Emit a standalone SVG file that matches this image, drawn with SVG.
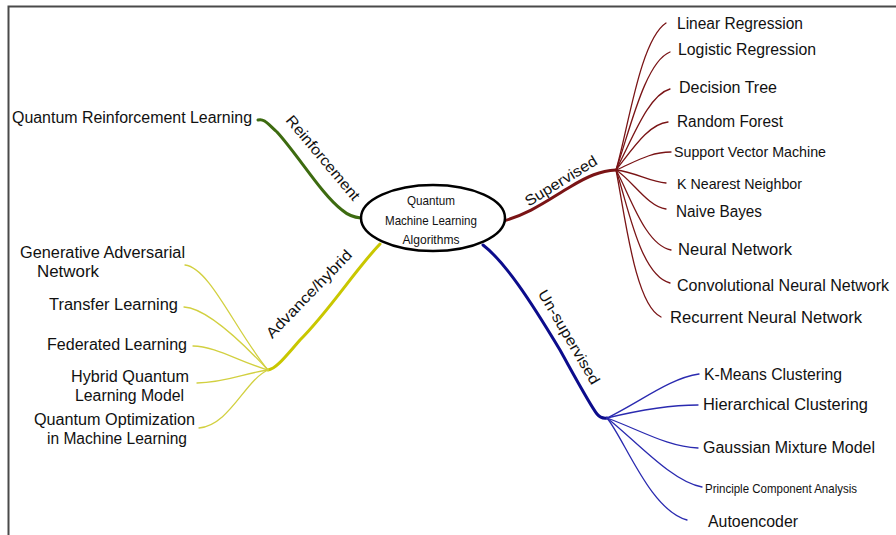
<svg xmlns="http://www.w3.org/2000/svg" width="896" height="535" viewBox="0 0 896 535">
<style>
text{font-family:"Liberation Sans",Arial,sans-serif;fill:#111;}
.lbl{font-size:16px;}
.sm{font-size:15px;}
.xs{font-size:13px;}
.br{font-size:15px;text-anchor:middle;}
.ctr{font-size:13.5px;text-anchor:middle;}
.main{fill:none;stroke-width:3;stroke-linecap:round;}
.sub{fill:none;stroke-width:1.3;stroke-linecap:round;}
.g{stroke:#3d6b10;}
.r{stroke:#7a1416;}
.b{stroke:#0c0c8c;}
.bs{stroke:#2a2ab0;}
.y{stroke:#c9c700;}
.ys{stroke:#d2d040;}
</style>
<rect width="896" height="535" fill="#fff"/>
<path d="M8.5 535 V6.5 H896" fill="none" stroke="#4a4a4a" stroke-width="2"/>

<g id="connectors">
  <!-- main branches -->
  <path class="main g" d="M258 120 C264 118 268 124 277 132 C298 155 322 195 342 210 Q350 217 361 218"/>
  <path class="main r" d="M500 222 C530 214 548 200 570 187 C588 176 600 171 616 170"/>
  <path class="main b" d="M483 245 C505 262 530 300 560 350 C575 377 590 405 597 414 Q601 419 607 418"/>
  <path class="main y" d="M380 244 C355 270 330 310 300 340 C285 357 276 369 268 370"/>
  <!-- supervised sub branches -->
  <path class="sub r" d="M616 170 C628 130 640 40 666 23"/>
  <path class="sub r" d="M616 170 C630 130 645 62 670 52"/>
  <path class="sub r" d="M616 170 C632 140 648 95 670 89"/>
  <path class="sub r" d="M616 170 C632 150 648 124 668 122"/>
  <path class="sub r" d="M616 170 C635 162 650 152 671 152"/>
  <path class="sub r" d="M616 170 C635 172 650 182 666 183"/>
  <path class="sub r" d="M616 170 C632 180 648 207 666 209"/>
  <path class="sub r" d="M616 170 C630 195 645 245 671 250"/>
  <path class="sub r" d="M616 170 C628 205 640 275 670 283"/>
  <path class="sub r" d="M616 170 C625 215 635 305 661 317"/>
  <!-- unsupervised sub branches -->
  <path class="sub bs" d="M607 418 C640 402 670 378 699 374"/>
  <path class="sub bs" d="M607 418 C640 410 670 405 698 405"/>
  <path class="sub bs" d="M607 418 C640 430 668 447 698 448"/>
  <path class="sub bs" d="M607 418 C635 440 672 482 702 487"/>
  <path class="sub bs" d="M607 418 C625 440 650 510 687 520"/>
  <!-- advance/hybrid sub branches -->
  <path class="sub ys" d="M268 370 C235 330 210 268 185 265"/>
  <path class="sub ys" d="M268 370 C240 340 205 308 184 307"/>
  <path class="sub ys" d="M268 370 C240 362 215 346 193 346"/>
  <path class="sub ys" d="M268 370 C245 373 225 383 197 383"/>
  <path class="sub ys" d="M268 370 C245 380 230 425 199 428"/>
</g>

<g id="center">
  <ellipse cx="433" cy="218" rx="72" ry="33" fill="#fff" stroke="#000" stroke-width="2.5"/>
  <text class="ctr" x="431" y="205" textLength="48" lengthAdjust="spacingAndGlyphs">Quantum</text>
  <text class="ctr" x="431" y="225" textLength="92" lengthAdjust="spacingAndGlyphs">Machine Learning</text>
  <text class="ctr" x="431" y="244" textLength="57" lengthAdjust="spacingAndGlyphs">Algorithms</text>
</g>

<g id="branch-labels">
  <text class="br" transform="translate(323 158) rotate(50)" y="5" textLength="106" lengthAdjust="spacingAndGlyphs">Reinforcement</text>
  <text class="br" transform="translate(561 181) rotate(-31.5)" y="5" textLength="82" lengthAdjust="spacingAndGlyphs">Supervised</text>
  <text class="br" transform="translate(569 337) rotate(59.6)" y="5" textLength="107" lengthAdjust="spacingAndGlyphs">Un-supervised</text>
  <text class="br" transform="translate(309 294) rotate(-46)" y="5" textLength="116" lengthAdjust="spacingAndGlyphs">Advance/hybrid</text>
</g>

<g id="node-qrl"><text class="lbl" x="12" y="123" textLength="240" lengthAdjust="spacingAndGlyphs">Quantum Reinforcement Learning</text></g>

<g id="node-linear"><text class="lbl" x="677" y="29" textLength="126" lengthAdjust="spacingAndGlyphs">Linear Regression</text></g>
<g id="node-logistic"><text class="lbl" x="678" y="55" textLength="138" lengthAdjust="spacingAndGlyphs">Logistic Regression</text></g>
<g id="node-dt"><text class="lbl" x="679" y="93" textLength="98" lengthAdjust="spacingAndGlyphs">Decision Tree</text></g>
<g id="node-rf"><text class="lbl" x="677" y="127" textLength="106" lengthAdjust="spacingAndGlyphs">Random Forest</text></g>
<g id="node-svm"><text class="sm" x="674" y="157" textLength="152" lengthAdjust="spacingAndGlyphs">Support Vector Machine</text></g>
<g id="node-knn"><text class="sm" x="677" y="189" textLength="125" lengthAdjust="spacingAndGlyphs">K Nearest Neighbor</text></g>
<g id="node-nb"><text class="lbl" x="676" y="217" textLength="86" lengthAdjust="spacingAndGlyphs">Naive Bayes</text></g>
<g id="node-nn"><text class="lbl" x="678" y="255" textLength="114" lengthAdjust="spacingAndGlyphs">Neural Network</text></g>
<g id="node-cnn"><text class="lbl" x="677" y="291" textLength="212" lengthAdjust="spacingAndGlyphs">Convolutional  Neural Network</text></g>
<g id="node-rnn"><text class="lbl" x="670" y="323" textLength="192" lengthAdjust="spacingAndGlyphs">Recurrent Neural Network</text></g>

<g id="node-kmeans"><text class="lbl" x="704" y="380" textLength="138" lengthAdjust="spacingAndGlyphs">K-Means Clustering</text></g>
<g id="node-hier"><text class="lbl" x="703" y="410" textLength="165" lengthAdjust="spacingAndGlyphs">Hierarchical Clustering</text></g>
<g id="node-gmm"><text class="lbl" x="703" y="453" textLength="172" lengthAdjust="spacingAndGlyphs">Gaussian Mixture Model</text></g>
<g id="node-pca"><text class="xs" x="705" y="493" textLength="152" lengthAdjust="spacingAndGlyphs">Principle Component Analysis</text></g>
<g id="node-ae"><text class="lbl" x="708" y="527" textLength="90" lengthAdjust="spacingAndGlyphs">Autoencoder</text></g>

<g id="node-gan">
  <text class="lbl" x="20" y="258" textLength="165" lengthAdjust="spacingAndGlyphs">Generative Adversarial</text>
  <text class="lbl" x="37" y="277" textLength="62" lengthAdjust="spacingAndGlyphs">Network</text>
</g>
<g id="node-transfer"><text class="lbl" x="49" y="310" textLength="129" lengthAdjust="spacingAndGlyphs">Transfer Learning</text></g>
<g id="node-federated"><text class="lbl" x="47" y="350" textLength="140" lengthAdjust="spacingAndGlyphs">Federated Learning</text></g>
<g id="node-hybrid">
  <text class="lbl" x="71" y="382" textLength="118" lengthAdjust="spacingAndGlyphs">Hybrid Quantum</text>
  <text class="lbl" x="75" y="401" textLength="109" lengthAdjust="spacingAndGlyphs">Learning Model</text>
</g>
<g id="node-qopt">
  <text class="lbl" x="34" y="425" textLength="161" lengthAdjust="spacingAndGlyphs">Quantum Optimization</text>
  <text class="lbl" x="47" y="444" textLength="140" lengthAdjust="spacingAndGlyphs">in Machine Learning</text>
</g>
</svg>
